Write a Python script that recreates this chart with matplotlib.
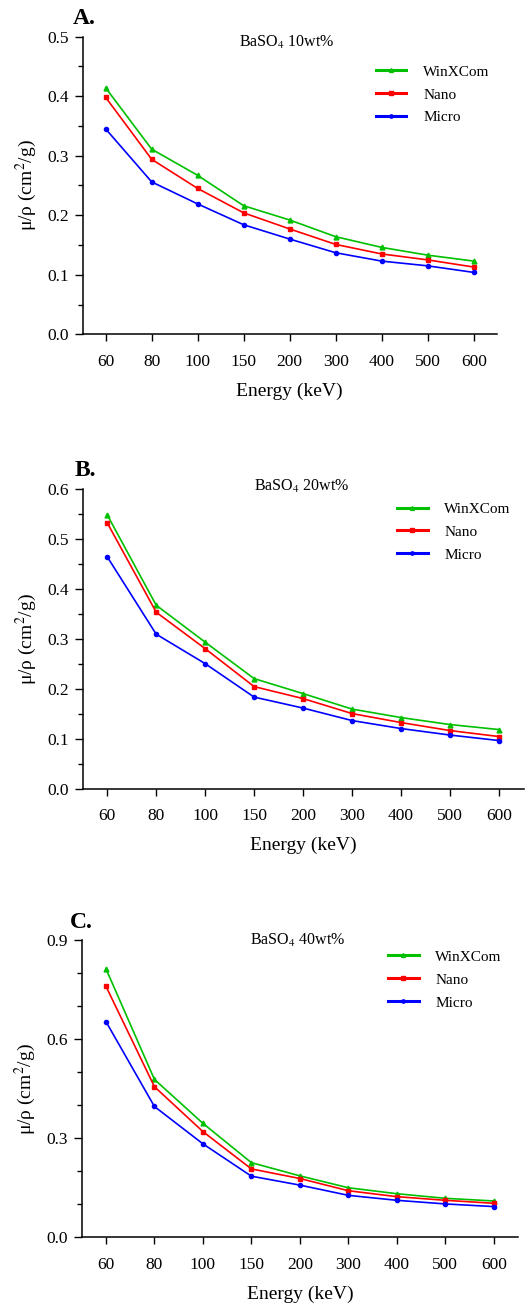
import numpy as np
import matplotlib
matplotlib.use("Agg")
import matplotlib.pyplot as plt
from matplotlib.ticker import MultipleLocator, FormatStrFormatter

plt.rcParams["font.family"] = ["Liberation Serif", "DejaVu Serif"]
plt.rcParams["mathtext.fontset"] = "stix"

energies = ["60", "80", "100", "150", "200", "300", "400", "500", "600"]
series_names = ["WinXCom", "Nano", "Micro"]

winxcom_10 = [0.414, 0.311, 0.267, 0.216, 0.192, 0.164, 0.146, 0.133, 0.123]
nano_10 = [0.398, 0.294, 0.245, 0.204, 0.177, 0.151, 0.135, 0.125, 0.113]
micro_10 = [0.345, 0.256, 0.219, 0.184, 0.160, 0.137, 0.123, 0.115, 0.104]

winxcom_20 = [0.549, 0.368, 0.294, 0.221, 0.191, 0.160, 0.143, 0.129, 0.119]
nano_20 = [0.533, 0.354, 0.281, 0.205, 0.181, 0.151, 0.133, 0.117, 0.105]
micro_20 = [0.465, 0.310, 0.251, 0.184, 0.162, 0.137, 0.121, 0.108, 0.097]

winxcom_40 = [0.813, 0.478, 0.345, 0.226, 0.186, 0.150, 0.132, 0.118, 0.110]
nano_40 = [0.760, 0.456, 0.320, 0.207, 0.178, 0.141, 0.123, 0.112, 0.103]
micro_40 = [0.653, 0.396, 0.283, 0.185, 0.158, 0.127, 0.112, 0.101, 0.093]

colors = ["#00c000", "#ff0000", "#0000ff"]
markers = ["^", "s", "o"]
msizes = [3.5, 3.5, 3.0]

W, H = 532, 1304
fig = plt.figure(figsize=(W / 100, H / 100), dpi=100)


def px_axes(left, top, right, bottom):
    return fig.add_axes([left / W, 1 - bottom / H, (right - left) / W, (bottom - top) / H])


panels = [
    # label, title, data, axes box (px), ymax, major, minor, title pos, legend pos, label pos
    ("A.", "BaSO$_4$ 10wt%", [winxcom_10, nano_10, micro_10],
     (82.7, 36.7, 496.7, 334.3), 0.5, 0.1, 0.05, (0.493, 0.979), (0.708, 0.905), (73, 18)),
    ("B.", "BaSO$_4$ 20wt%", [winxcom_20, nano_20, micro_20],
     (82.7, 489.3, 523.5, 789.0), 0.6, 0.1, 0.05, (0.497, 1.008), (0.713, 0.957), (75, 470)),
    ("C.", "BaSO$_4$ 40wt%", [winxcom_40, nano_40, micro_40],
     (81.7, 940.0, 518.0, 1237.3), 0.9, 0.3, 0.1, (0.496, 1.0), (0.702, 0.966), (70, 923)),
]

x = np.arange(len(energies))

for label, title, data, box, ymax, major, minor, tpos, lpos, lab in panels:
    ax = px_axes(*box)
    for vals, name, c, m, ms in zip(data, series_names, colors, markers, msizes):
        ax.plot(x, vals, color=c, marker=m, markersize=ms, linewidth=1.2, label=name)

    ax.set_xlim(-0.5, 8.5)
    ax.set_ylim(0, ymax)
    ax.set_xticks(x)
    ax.set_xticklabels(energies)
    ax.yaxis.set_major_locator(MultipleLocator(major))
    ax.yaxis.set_minor_locator(MultipleLocator(minor))
    ax.yaxis.set_major_formatter(FormatStrFormatter("%.1f"))

    for s in ["top", "right"]:
        ax.spines[s].set_visible(False)
    for s in ["left", "bottom"]:
        ax.spines[s].set_linewidth(1.1)

    ax.tick_params(axis="y", which="major", length=6, width=1, labelsize=12.5, pad=4)
    ax.tick_params(axis="y", which="minor", length=3.5, width=1)
    ax.tick_params(axis="x", which="major", length=5, width=1, labelsize=12.5, pad=9)

    ax.set_xlabel("Energy (keV)", fontsize=14, labelpad=9)
    ax.set_ylabel("μ/ρ (cm$^2$/g)", fontsize=14, labelpad=6)

    ax.text(tpos[0], tpos[1], title, transform=ax.transAxes, ha="center", va="center", fontsize=11.5)

    leg = ax.legend(loc="upper left", bbox_to_anchor=lpos, frameon=False, fontsize=11,
                    handlelength=2.0, handletextpad=1.1, labelspacing=0.6,
                    borderpad=0, borderaxespad=0, markerscale=0.8)
    for ln in leg.get_lines():
        ln.set_linewidth(2.2)

    fig.text(lab[0] / W, 1 - lab[1] / H, label, fontsize=17, fontweight="bold",
             ha="left", va="center")

fig.savefig("out.png", dpi=100)
